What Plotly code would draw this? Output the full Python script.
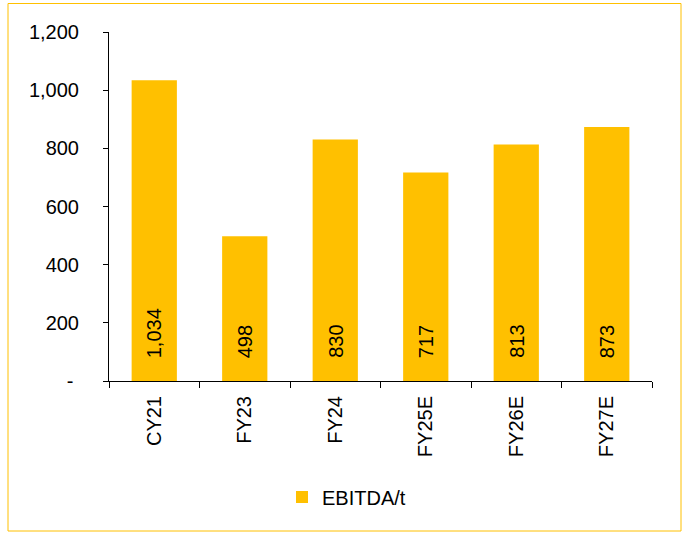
import plotly.graph_objects as go

categories = ["CY21", "FY23", "FY24", "FY25E", "FY26E", "FY27E"]
ebitda_t = [1034, 498, 830, 717, 813, 873]
y_ticks = [0, 200, 400, 600, 800, 1000, 1200]
y_tick_text = ["-\u00a0", "200", "400", "600", "800", "1,000", "1,200"]
series_name = "EBITDA/t"

W, H = 697, 534
L, R, T, B = 109, 45, 32, 153
FONT = "Arial, Liberation Sans, sans-serif"
GOLD = "#FFC000"

fig = go.Figure()
fig.add_trace(go.Bar(
    x=categories, y=ebitda_t, name=series_name,
    marker=dict(color=GOLD, line=dict(width=0)),
    width=0.5, showlegend=True,
))

for c, v in zip(categories, ebitda_t):
    fig.add_annotation(
        x=c, y=0, xref="x", yref="y", text=f"{v:,}", textangle=-90,
        showarrow=False, yanchor="bottom", yshift=21,
        font=dict(family=FONT, size=20, color="black"),
    )

pw = W - L - R
ph = H - T - B
fig.add_shape(
    type="rect", xref="paper", yref="paper",
    x0=(8 - L) / pw, x1=(681 - L) / pw,
    y0=(H - B - 531) / ph, y1=(H - B - 3.5) / ph,
    line=dict(color=GOLD, width=1), fillcolor="rgba(0,0,0,0)", layer="below",
)

fig.update_layout(
    width=W, height=H,
    margin=dict(l=L, r=R, t=T, b=B),
    paper_bgcolor="white", plot_bgcolor="white",
    font=dict(family=FONT, size=20, color="black"),
    showlegend=True,
    legend=dict(orientation="h", x=(297 - 15 - L) / pw, xanchor="left",
                y=(H - B - 497) / ph, yanchor="middle",
                itemwidth=30, font=dict(family=FONT, size=20),
                bgcolor="rgba(0,0,0,0)"),
    bargap=0.5,
    xaxis=dict(
        type="category", showline=True, linecolor="black", linewidth=1,
        ticks="outside", ticklen=6, tickcolor="black", tickson="boundaries",
        tickangle=-90, showgrid=False, ticklabelstandoff=6,
        tickfont=dict(family=FONT, size=20),
    ),
    yaxis=dict(
        range=[0, 1200], tickvals=y_ticks, ticktext=y_tick_text,
        showline=True, linecolor="black", linewidth=1,
        ticks="outside", ticklen=5, tickcolor="black",
        showgrid=False, zeroline=False, ticklabelstandoff=20,
        tickfont=dict(family=FONT, size=20),
    ),
)

fig.write_html("out.html")
